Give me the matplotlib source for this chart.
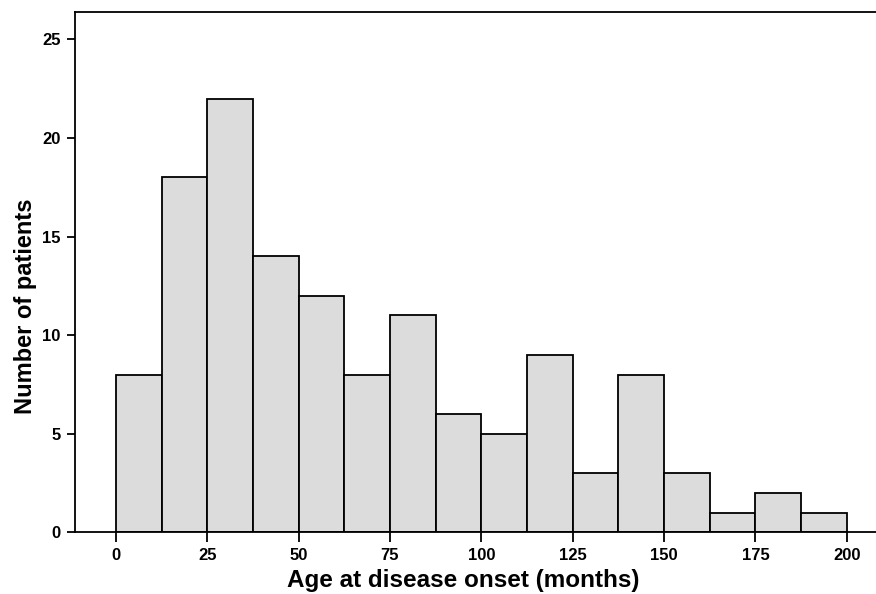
import numpy as np
import matplotlib.pyplot as plt

plt.rcParams['font.family'] = ['Liberation Sans', 'DejaVu Sans']
plt.rcParams['font.weight'] = 'bold'

# histogram bins (months) and counts
bin_edges = [0, 12.5, 25, 37.5, 50, 62.5, 75, 87.5, 100, 112.5, 125, 137.5, 150, 162.5, 175, 187.5, 200]
counts = [8, 18, 22, 14, 12, 8, 11, 6, 5, 9, 3, 8, 3, 1, 2, 1]
x_ticks = [0, 25, 50, 75, 100, 125, 150, 175, 200]
y_ticks = [0, 5, 10, 15, 20, 25]

fig = plt.figure(figsize=(8.76, 5.94), dpi=100)
ax = fig.add_axes([0.0856, 0.104, 0.9144, 0.876])

lefts = np.array(bin_edges[:-1])
widths = np.diff(bin_edges)
ax.bar(lefts, counts, width=widths, align='edge', color='#dcdcdc',
       edgecolor='black', linewidth=1.3)

ax.set_xlim(-11.2, 208)
ax.set_ylim(0, 26.4)
ax.set_xticks(x_ticks)
ax.set_yticks(y_ticks)
ax.tick_params(axis='both', direction='out', width=1.3, labelsize=12)
ax.tick_params(axis='x', length=7, pad=4)
ax.tick_params(axis='y', length=5.5, pad=5)

for s in ['left', 'bottom', 'top']:
    ax.spines[s].set_linewidth(1.3)
ax.spines['right'].set_visible(False)

ax.set_xlabel('Age at disease onset (months)', fontsize=17.5, fontweight='bold')
ax.set_ylabel('Number of patients', fontsize=17, fontweight='bold')
ax.xaxis.set_label_coords(0.485, -0.071)
ax.yaxis.set_label_coords(-0.048, 0.435)

fig.savefig('out.png', dpi=100)
